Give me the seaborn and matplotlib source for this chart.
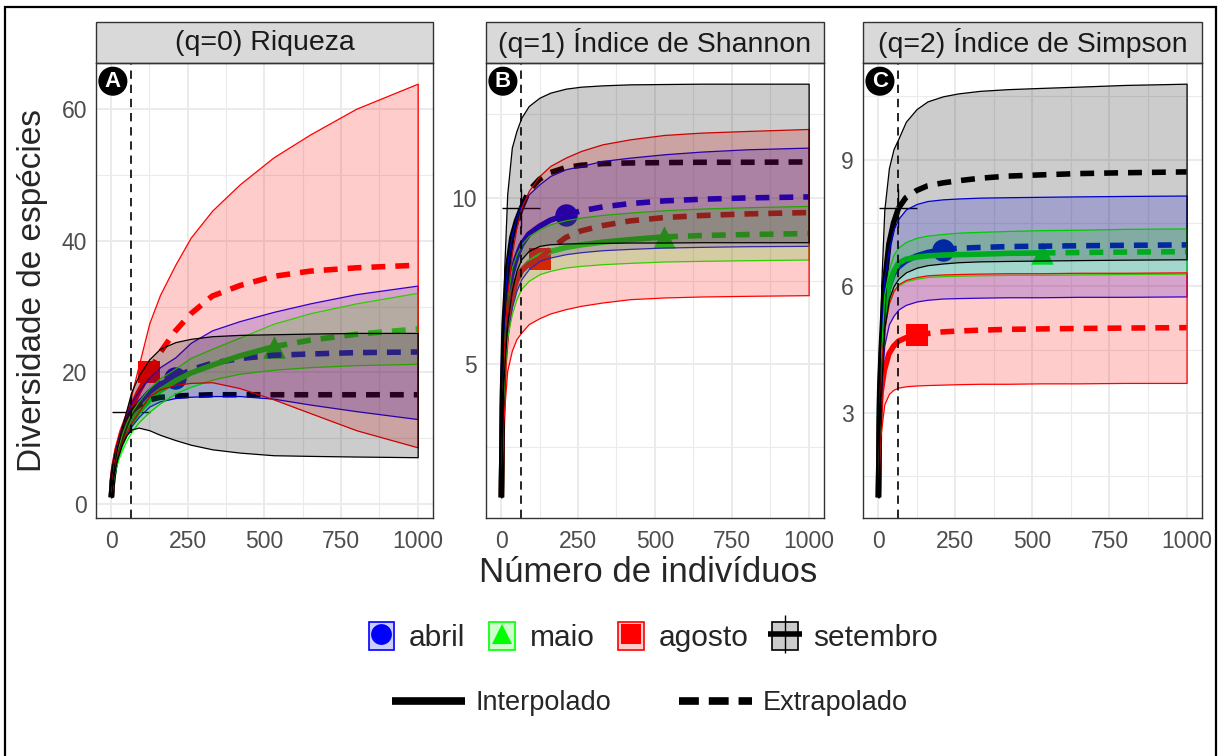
import matplotlib
matplotlib.use("Agg")
import matplotlib.pyplot as plt
import numpy as np
import pandas as pd
import seaborn as sns
from matplotlib.patches import Rectangle, Patch
from matplotlib.lines import Line2D
from matplotlib.ticker import MultipleLocator

sns.set_style("white")
plt.rcParams["font.family"] = ["Liberation Sans", "DejaVu Sans"]

# ---------------------------------------------------------------------------
# Rarefaction / extrapolation curves (Hill numbers q = 0, 1, 2)
# ---------------------------------------------------------------------------
m = [1, 5, 10, 20, 35, 50, 66, 90, 125, 160, 210, 260, 330, 420, 530, 650, 800, 1000]

groups = ["abril", "maio", "agosto", "setembro"]
colors = ["#0000FF", "#00FF00", "#FF0000", "#000000"]
markers = ["o", "^", "s", "+"]
sample_size = [210, 530, 125, 66]
panel_titles = ["(q=0) Riqueza", "(q=1) Índice de Shannon", "(q=2) Índice de Simpson"]
panel_tags = ["A", "B", "C"]
ref_line = 66

# q = 0
q0_abril_est = [1, 3.6, 5.6, 8.0, 10.4, 12.1, 13.6, 15.2, 17.0, 18.2, 19.2, 20.4, 21.4, 22.1, 22.6, 22.8, 23.0, 23.1]
q0_abril_lo = [1, 3.3, 4.9, 7.0, 9.0, 10.5, 11.8, 13.2, 14.8, 15.6, 16.1, 16.3, 16.4, 16.4, 16.0, 15.1, 14.1, 12.9]
q0_abril_hi = [1, 3.9, 6.3, 9.0, 11.8, 13.7, 15.4, 17.2, 19.2, 20.8, 22.3, 24.5, 26.4, 27.8, 29.2, 30.5, 31.9, 33.2]
q0_maio_est = [1, 3.4, 5.2, 7.2, 9.3, 11.0, 12.4, 14.0, 15.8, 17.2, 18.7, 19.9, 21.1, 22.5, 23.9, 24.9, 25.8, 26.6]
q0_maio_lo = [1, 3.1, 4.6, 6.3, 8.1, 9.6, 10.9, 12.4, 14.0, 15.3, 16.8, 17.8, 18.9, 19.8, 20.4, 20.8, 21.1, 21.3]
q0_maio_hi = [1, 3.7, 5.8, 8.1, 10.5, 12.4, 13.9, 15.6, 17.6, 19.1, 20.6, 22.2, 23.6, 25.3, 27.4, 29.0, 30.5, 32.1]
q0_agosto_est = [1, 3.9, 5.8, 8.3, 10.9, 12.8, 14.6, 17.0, 20.0, 23.0, 26.3, 28.9, 31.6, 33.2, 34.6, 35.4, 35.9, 36.3]
q0_agosto_lo = [1, 3.6, 5.0, 7.2, 9.3, 10.8, 12.3, 14.0, 16.4, 17.4, 18.1, 18.4, 18.5, 17.6, 15.9, 13.8, 11.2, 8.6]
q0_agosto_hi = [1, 4.2, 6.3, 8.9, 11.6, 14.0, 16.5, 21.0, 27.5, 31.8, 36.4, 40.5, 44.6, 48.6, 52.7, 56.2, 60.1, 63.9]
q0_setembro_est = [1, 3.6, 5.3, 7.7, 10.3, 12.3, 14.0, 15.0, 15.8, 16.2, 16.4, 16.5, 16.6, 16.6, 16.6, 16.6, 16.6, 16.6]
q0_setembro_lo = [1, 3.3, 4.7, 6.8, 9.0, 10.4, 11.3, 11.6, 11.2, 10.5, 9.7, 9.0, 8.3, 7.8, 7.4, 7.3, 7.2, 7.1]
q0_setembro_hi = [1, 3.9, 5.9, 8.6, 11.6, 14.2, 17.0, 19.5, 22.0, 23.6, 24.6, 25.1, 25.5, 25.7, 25.8, 25.9, 26.0, 26.0]

# q = 1
q1_abril_est = [1, 4.1, 5.7, 6.9, 7.7, 8.2, 8.58, 8.9, 9.14, 9.32, 9.48, 9.6, 9.72, 9.82, 9.9, 9.95, 9.99, 10.02]
q1_abril_lo = [1, 3.8, 4.8, 5.8, 6.7, 7.2, 7.55, 7.85, 8.1, 8.2, 8.3, 8.36, 8.42, 8.46, 8.5, 8.52, 8.54, 8.55]
q1_abril_hi = [1, 4.4, 6.6, 8.0, 8.9, 9.4, 9.8, 10.1, 10.4, 10.65, 10.85, 10.95, 11.1, 11.2, 11.3, 11.38, 11.45, 11.5]
q1_maio_est = [1, 3.9, 5.2, 6.4, 7.1, 7.5, 7.8, 8.05, 8.25, 8.38, 8.5, 8.58, 8.66, 8.74, 8.82, 8.86, 8.89, 8.92]
q1_maio_lo = [1, 3.6, 4.7, 5.8, 6.5, 6.95, 7.26, 7.5, 7.7, 7.8, 7.9, 7.95, 8.0, 8.04, 8.08, 8.1, 8.12, 8.14]
q1_maio_hi = [1, 4.2, 5.7, 7.0, 7.9, 8.3, 8.6, 8.85, 9.05, 9.2, 9.32, 9.4, 9.48, 9.55, 9.62, 9.67, 9.71, 9.75]
q1_agosto_est = [1, 3.7, 5.0, 6.2, 7.0, 7.5, 7.8, 8.0, 8.17, 8.45, 8.8, 9.0, 9.16, 9.3, 9.4, 9.46, 9.51, 9.55]
q1_agosto_lo = [1, 3.0, 3.6, 4.8, 5.4, 5.75, 5.95, 6.2, 6.38, 6.52, 6.65, 6.75, 6.85, 6.95, 7.0, 7.03, 7.05, 7.07]
q1_agosto_hi = [1, 4.3, 5.6, 7.1, 8.3, 9.1, 9.7, 10.2, 10.65, 10.95, 11.2, 11.4, 11.6, 11.75, 11.88, 11.95, 12.0, 12.06]
q1_setembro_est = [1, 4.3, 6.2, 7.8, 8.8, 9.3, 9.68, 10.2, 10.55, 10.75, 10.9, 10.97, 11.02, 11.04, 11.05, 11.06, 11.06, 11.07]
q1_setembro_lo = [1, 4.0, 4.8, 6.2, 7.2, 7.8, 8.15, 8.4, 8.55, 8.6, 8.62, 8.63, 8.64, 8.65, 8.65, 8.66, 8.66, 8.66]
q1_setembro_hi = [1, 4.8, 7.8, 10.1, 11.5, 12.0, 12.4, 12.75, 13.0, 13.15, 13.27, 13.33, 13.37, 13.4, 13.41, 13.42, 13.42, 13.42]

# q = 2
q2_abril_est = [1, 3.3, 4.3, 5.5, 6.0, 6.3, 6.46, 6.6, 6.72, 6.8, 6.87, 6.9, 6.92, 6.94, 6.95, 6.96, 6.97, 6.98]
q2_abril_lo = [1, 3.0, 3.6, 4.6, 5.1, 5.3, 5.45, 5.56, 5.64, 5.68, 5.71, 5.72, 5.73, 5.74, 5.74, 5.75, 5.75, 5.76]
q2_abril_hi = [1, 3.6, 4.8, 6.2, 6.9, 7.35, 7.6, 7.82, 7.95, 8.02, 8.06, 8.08, 8.1, 8.11, 8.12, 8.13, 8.14, 8.15]
q2_maio_est = [1, 3.2, 4.2, 5.4, 6.0, 6.35, 6.55, 6.64, 6.69, 6.72, 6.74, 6.75, 6.76, 6.78, 6.79, 6.8, 6.81, 6.82]
q2_maio_lo = [1, 3.0, 3.9, 5.0, 5.6, 5.88, 6.02, 6.12, 6.18, 6.22, 6.24, 6.25, 6.26, 6.27, 6.27, 6.28, 6.29, 6.3]
q2_maio_hi = [1, 3.4, 4.5, 5.8, 6.4, 6.75, 6.92, 7.05, 7.15, 7.2, 7.24, 7.27, 7.29, 7.31, 7.33, 7.34, 7.36, 7.37]
q2_agosto_est = [1, 2.9, 3.5, 4.0, 4.4, 4.58, 4.7, 4.78, 4.85, 4.88, 4.92, 4.94, 4.96, 4.98, 4.99, 5.0, 5.01, 5.02]
q2_agosto_lo = [1, 2.3, 2.6, 3.2, 3.45, 3.55, 3.6, 3.63, 3.65, 3.66, 3.67, 3.68, 3.69, 3.69, 3.7, 3.7, 3.71, 3.71]
q2_agosto_hi = [1, 3.5, 4.2, 5.0, 5.6, 5.9, 6.05, 6.15, 6.22, 6.26, 6.28, 6.29, 6.3, 6.31, 6.31, 6.32, 6.32, 6.33]
q2_setembro_est = [1, 3.5, 4.5, 6.0, 7.0, 7.5, 7.85, 8.1, 8.27, 8.38, 8.45, 8.5, 8.56, 8.61, 8.64, 8.67, 8.69, 8.71]
q2_setembro_lo = [1, 3.1, 3.6, 5.0, 5.7, 6.0, 6.18, 6.33, 6.44, 6.5, 6.54, 6.57, 6.59, 6.6, 6.61, 6.62, 6.63, 6.64]
q2_setembro_hi = [1, 4.0, 6.0, 7.8, 8.8, 9.25, 9.5, 9.9, 10.2, 10.38, 10.5, 10.57, 10.63, 10.67, 10.7, 10.73, 10.77, 10.8]

curves = {
    0: {"abril": (q0_abril_est, q0_abril_lo, q0_abril_hi),
        "maio": (q0_maio_est, q0_maio_lo, q0_maio_hi),
        "agosto": (q0_agosto_est, q0_agosto_lo, q0_agosto_hi),
        "setembro": (q0_setembro_est, q0_setembro_lo, q0_setembro_hi)},
    1: {"abril": (q1_abril_est, q1_abril_lo, q1_abril_hi),
        "maio": (q1_maio_est, q1_maio_lo, q1_maio_hi),
        "agosto": (q1_agosto_est, q1_agosto_lo, q1_agosto_hi),
        "setembro": (q1_setembro_est, q1_setembro_lo, q1_setembro_hi)},
    2: {"abril": (q2_abril_est, q2_abril_lo, q2_abril_hi),
        "maio": (q2_maio_est, q2_maio_lo, q2_maio_hi),
        "agosto": (q2_agosto_est, q2_agosto_lo, q2_agosto_hi),
        "setembro": (q2_setembro_est, q2_setembro_lo, q2_setembro_hi)},
}

rows = []
for q, per_group in curves.items():
    for g, (est, lo, hi) in per_group.items():
        for xi, e, l, h in zip(m, est, lo, hi):
            rows.append({"q": q, "grupo": g, "m": xi, "est": e, "lo": l, "hi": h})
df = pd.DataFrame(rows)

y_major = [20, 5, 3]
y_minor = [10, 2.5, 1.5]

# ---------------------------------------------------------------------------
# Layout (pixel geometry of the three facets)
# ---------------------------------------------------------------------------
W, H = 1225, 756
fig = plt.figure(figsize=(W / 100, H / 100), dpi=100)
panel_px = [(96, 433), (486, 824), (863, 1202)]
top_px, bot_px = 63, 518
strip_frac = 41 / (bot_px - top_px)

dash_pat = (0, (2.5, 1.8))
thick = 4.0

for q, (x0, x1) in enumerate(panel_px):
    ax = fig.add_axes([x0 / W, 1 - bot_px / H, (x1 - x0) / W, (bot_px - top_px) / H])
    ax.set_axisbelow(True)
    sub = df[df["q"] == q]

    for gi, g in enumerate(groups):
        d = sub[sub["grupo"] == g]
        n = sample_size[gi]
        c = colors[gi]
        interp = d[d["m"] <= n]
        extrap = d[d["m"] >= n]
        sns.lineplot(data=interp, x="m", y="est", ax=ax, color=c, lw=thick,
                     errorbar=None, solid_capstyle="butt", zorder=2.5)
        sns.lineplot(data=extrap, x="m", y="est", ax=ax, color=c, lw=thick,
                     errorbar=None, linestyle=dash_pat, dash_capstyle="butt", zorder=2.5)
        obs = d[d["m"] == n]
        if markers[gi] == "+":
            sns.scatterplot(data=obs, x="m", y="est", ax=ax, color=c, marker="+",
                            s=750, linewidth=1.0, zorder=2.2, legend=False)
        else:
            sns.scatterplot(data=obs, x="m", y="est", ax=ax, color=c, marker=markers[gi],
                            s=260, linewidth=0, zorder=2.2, legend=False)

    # confidence ribbons drawn over the curves, group after group
    for gi, g in enumerate(groups):
        d = sub[sub["grupo"] == g]
        c = colors[gi]
        ax.fill_between(d["m"], d["lo"], d["hi"], facecolor=matplotlib.colors.to_rgba(c, 0.2),
                        edgecolor=c, linewidth=0.9, zorder=3 + gi * 0.01)

    ax.axvline(ref_line, color="black", lw=1.2, linestyle=(0, (5, 3.5)), zorder=4)

    ymin = min(sub["lo"].min(), sub["est"].min())
    ymax = max(sub["hi"].max(), sub["est"].max())
    pad = 0.05 * (ymax - ymin)
    ax.set_ylim(ymin - pad, ymax + pad)
    ax.set_xlim(1 - 0.05 * 999, 1000 + 0.05 * 999)

    ax.xaxis.set_major_locator(MultipleLocator(250))
    ax.xaxis.set_minor_locator(MultipleLocator(125))
    ax.yaxis.set_major_locator(MultipleLocator(y_major[q]))
    ax.yaxis.set_minor_locator(MultipleLocator(y_minor[q]))
    ax.grid(which="major", color="#EBEBEB", lw=1.4)
    ax.grid(which="minor", color="#EBEBEB", lw=0.8)
    ax.tick_params(which="major", direction="out", length=4, width=1, color="#333333",
                   labelsize=16.5, labelcolor="#4D4D4D", pad=2.5)
    ax.tick_params(axis="x", which="major", pad=5)
    ax.tick_params(which="minor", length=0)
    ax.set_xlabel("")
    ax.set_ylabel("")
    for s in ax.spines.values():
        s.set_color("#333333")
        s.set_linewidth(1.0)
        s.set_zorder(6)

    # facet strip
    ax.add_patch(Rectangle((0, 1), 1, strip_frac, transform=ax.transAxes, clip_on=False,
                           facecolor="#D9D9D9", edgecolor="#333333", lw=1.0, zorder=6))
    ax.text(0.5, 1 + strip_frac / 2, panel_titles[q], transform=ax.transAxes,
            ha="center", va="center", fontsize=20.5, color="#1A1A1A", zorder=7)

    # panel tag
    ax.text(0.05, 0.96, panel_tags[q], transform=ax.transAxes, ha="center", va="center",
            fontsize=16, fontweight="bold", color="white", zorder=8,
            bbox=dict(boxstyle="circle,pad=0.15", facecolor="black", edgecolor="black", lw=1))

fig.text(648 / W, 1 - 573 / H, "Número de indivíduos", ha="center", va="center", fontsize=25)
fig.text(33 / W, 1 - 290 / H, "Diversidade de espécies", ha="center", va="center",
         rotation=90, fontsize=24)

# legend: groups
group_handles = []
for gi, g in enumerate(groups):
    c = colors[gi]
    box = Patch(facecolor=matplotlib.colors.to_rgba(c, 0.2), edgecolor=c, lw=1.2)
    if markers[gi] == "+":
        h1 = Line2D([], [], ls="", marker="_", ms=24, mew=4, color=c)
        h2 = Line2D([], [], ls="", marker="|", ms=28, mew=1, color=c)
        group_handles.append((box, h1, h2))
    else:
        mk = Line2D([], [], ls="", marker=markers[gi], ms=15, mew=0, color=c)
        group_handles.append((box, mk))
fig.legend(group_handles, groups, loc="center", bbox_to_anchor=(653 / W, 1 - 637 / H),
           ncol=4, frameon=False, fontsize=21.5, handlelength=0.85, handleheight=1.05,
           handletextpad=0.5, columnspacing=0.8)

# legend: line types
lt_handles = [Line2D([], [], color="black", lw=5.5, solid_capstyle="butt"),
              Line2D([], [], color="black", lw=5.5, linestyle=(0, (2.6, 1.3)), dash_capstyle="butt")]
fig.legend(lt_handles, ["Interpolado", "Extrapolado"], loc="center",
           bbox_to_anchor=(650 / W, 1 - 703 / H), ncol=2, frameon=False, fontsize=19.5,
           handlelength=2.7, handletextpad=0.4, columnspacing=2.5)

# outer frame
fig.patches.append(Rectangle((5 / W, -0.1), (1216 - 5) / W, 1 - 7 / H + 0.1,
                             transform=fig.transFigure, fill=False, edgecolor="black", lw=1.6))

fig.savefig("out.png", dpi=100)
